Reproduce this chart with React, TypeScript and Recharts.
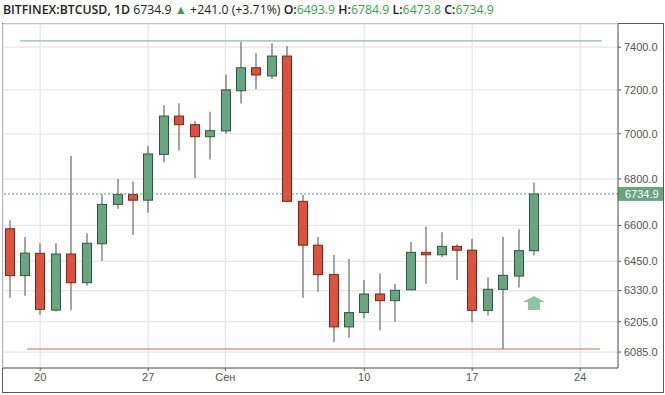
import { ComposedChart, Bar, XAxis, YAxis, CartesianGrid, ReferenceLine, ReferenceDot } from "recharts";

// BTCUSD daily, 18 Aug - 21 Sep
const dates = [
  "08-18", "08-19", "08-20", "08-21", "08-22", "08-23", "08-24", "08-25", "08-26", "08-27", "08-28", "08-29",
  "08-30", "08-31", "09-01", "09-02", "09-03", "09-04", "09-05", "09-06", "09-07", "09-08", "09-09", "09-10",
  "09-11", "09-12", "09-13", "09-14", "09-15", "09-16", "09-17", "09-18", "09-19", "09-20", "09-21",
];
const opens = [
  6586, 6391, 6483, 6251, 6480, 6362, 6523, 6690, 6732, 6708, 6908, 7080, 7041, 6987, 7013, 7196, 7303, 7265,
  7358, 6703, 6517, 6395, 6184, 6241, 6316, 6289, 6333, 6487, 6477, 6512, 6496, 6250, 6335, 6389, 6493.9,
];
const highs = [
  6622, 6551, 6525, 6525, 6901, 6567, 6732, 6800, 6790, 6945, 7131, 7138, 7058, 7100, 7272, 7426, 7373, 7419,
  7406, 6730, 6551, 6476, 6459, 6373, 6400, 6357, 6530, 6596, 6571, 6521, 6543, 6384, 6551, 6584, 6784.9,
];
const lows = [
  6301, 6309, 6231, 6245, 6250, 6350, 6452, 6671, 6560, 6654, 6873, 6924, 6803, 6885, 7000, 7137, 7204, 7251,
  6700, 6301, 6325, 6123, 6141, 6218, 6171, 6204, 6333, 6358, 6467, 6373, 6202, 6229, 6097, 6342, 6473.8,
];
const closes = [
  6391, 6484, 6254, 6480, 6362, 6525, 6690, 6732, 6708, 6910, 7080, 7041, 6987, 7014, 7200, 7303, 7269, 7358,
  6703, 6517, 6395, 6184, 6241, 6316, 6289, 6331, 6487, 6477, 6512, 6496, 6250, 6335, 6392, 6494, 6734.9,
];

const priceTicks = [6085, 6205, 6330, 6450, 6600, 6800, 7000, 7200, 7400];
const dateTicks = [2, 9, 14, 23, 30, 37];
const dateTickLabels = ["20", "27", "Сен", "10", "17", "24"];

const lastPrice = 6734.9;
const resistance = 7430;
const support = 6097;
const levelFrom = [0.7, 1.15];
const levelTo = [38.4, 38.3];
const arrowAt = { idx: 34, price: 6280 };

const data = dates.map((date, i) => ({
  idx: i,
  date,
  open: opens[i],
  high: highs[i],
  low: lows[i],
  close: closes[i],
  range: [lows[i], highs[i]],
}));

const GREEN = "#6aa582";
const GREEN_EDGE = "#2a5b3d";
const RED = "#d9533f";
const RED_EDGE = "#7c2418";

const Candle = (props: any) => {
  const { x, y, width, height, payload } = props;
  if (!payload) return null;
  const { open, close, high, low } = payload;
  const top = Math.min(y, y + height);
  const h = Math.abs(height);
  const lh = Math.log(high);
  const ll = Math.log(low);
  const py = (v: number) => top + (h * (lh - Math.log(v))) / (lh - ll);
  const up = close >= open;
  const bTop = py(Math.max(open, close));
  const bBot = py(Math.min(open, close));
  const cx = Math.round(x + width / 2);
  return (
    <g>
      <line x1={cx} x2={cx} y1={top} y2={top + h} stroke="#767676" strokeWidth={1.3} />
      <rect
        x={cx - 4.5}
        y={bTop}
        width={9}
        height={Math.max(bBot - bTop, 1.5)}
        fill={up ? GREEN : RED}
        stroke={up ? GREEN_EDGE : RED_EDGE}
        strokeWidth={1}
      />
    </g>
  );
};

const PriceTag = (props: any) => {
  const vb = props.viewBox || {};
  const left = vb.x + vb.width;
  return (
    <g>
      <rect x={left} y={vb.y - 7} width={45} height={14} fill={GREEN} />
      <text x={left + 7} y={vb.y + 4} fill="#fff" fontSize={11} fontFamily="Liberation Sans, Arial, sans-serif">
        {lastPrice.toFixed(1)}
      </text>
    </g>
  );
};

const Arrow = (props: any) => {
  const { cx, cy } = props;
  return (
    <path
      d={`M${cx} ${cy - 7} L${cx + 11} ${cy - 1} L${cx + 6} ${cy - 1} L${cx + 6} ${cy + 7} L${cx - 6} ${cy + 7} L${cx - 6} ${cy - 1} L${cx - 11} ${cy - 1} Z`}
      fill="#8fc3a1"
    />
  );
};

const green = { color: "#3f9d50" };

export default function App() {
  return (
    <div style={{ position: "absolute", left: 0, top: 0, width: 665, height: 395, background: "#fff" }}>
      <div
        style={{
          position: "absolute",
          left: 3,
          top: 1,
          fontFamily: "'Open Sans', sans-serif",
          fontSize: 12.3,
          color: "#222",
          whiteSpace: "nowrap",
        }}
      >
        <b style={{ fontWeight: 600 }}>BITFINEX:BTCUSD, 1D</b> 6734.9 <span style={green}>▲</span> +241.0 (+3.71%){" "}
        <b style={{ fontWeight: 600 }}>O:</b>
        <span style={green}>6493.9</span> <b style={{ fontWeight: 600 }}>H:</b>
        <span style={green}>6784.9</span> <b style={{ fontWeight: 600 }}>L:</b>
        <span style={green}>6473.8</span> <b style={{ fontWeight: 600 }}>C:</b>
        <span style={green}>6734.9</span>
      </div>
      <div
        style={{
          position: "absolute",
          left: 2,
          top: 23,
          width: 660,
          height: 368,
          border: "1px solid #5a5a5a",
        }}
      />
      <div style={{ position: "absolute", left: 0, top: 0 }}>
        <ComposedChart width={665} height={395} data={data} margin={{ top: 24, right: 2, left: 3, bottom: 3 }}>
          <CartesianGrid stroke="#e6e6e6" strokeWidth={1.3} />
          <XAxis
            dataKey="idx"
            type="number"
            domain={[-0.41, 39.45]}
            ticks={dateTicks}
            tickFormatter={(v: number) => dateTickLabels[dateTicks.indexOf(v)] ?? ""}
            height={24}
            axisLine={{ stroke: "#5a5a5a" }}
            tickLine={{ stroke: "#5a5a5a" }}
            tickSize={3}
            tick={{ fill: "#555", fontSize: 11, fontFamily: "Liberation Sans, Arial, sans-serif" }}
            allowDataOverflow
          />
          <YAxis
            orientation="right"
            scale="log"
            domain={[6023, 7511]}
            ticks={priceTicks}
            tickFormatter={(v: number) => v.toFixed(1)}
            width={45}
            axisLine={{ stroke: "#5a5a5a" }}
            tickLine={{ stroke: "#5a5a5a" }}
            tickSize={3}
            tickMargin={3}
            tick={{ fill: "#555", fontSize: 11, fontFamily: "Liberation Sans, Arial, sans-serif" }}
            allowDataOverflow
          />
          <ReferenceLine
            segment={[
              { x: levelFrom[0], y: resistance },
              { x: levelTo[0], y: resistance },
            ]}
            stroke="#7aa88c"
            strokeWidth={1}
          />
          <ReferenceLine
            segment={[
              { x: levelFrom[1], y: support },
              { x: levelTo[1], y: support },
            ]}
            stroke="#d9604c"
            strokeWidth={1}
          />
          <ReferenceLine y={lastPrice} stroke="#4f9a6c" strokeDasharray="2 2" label={<PriceTag />} />
          <Bar dataKey="range" barSize={10} shape={<Candle />} isAnimationActive={false} />
          <ReferenceDot x={arrowAt.idx} y={arrowAt.price} r={8} shape={<Arrow />} />
        </ComposedChart>
      </div>
    </div>
  );
}
